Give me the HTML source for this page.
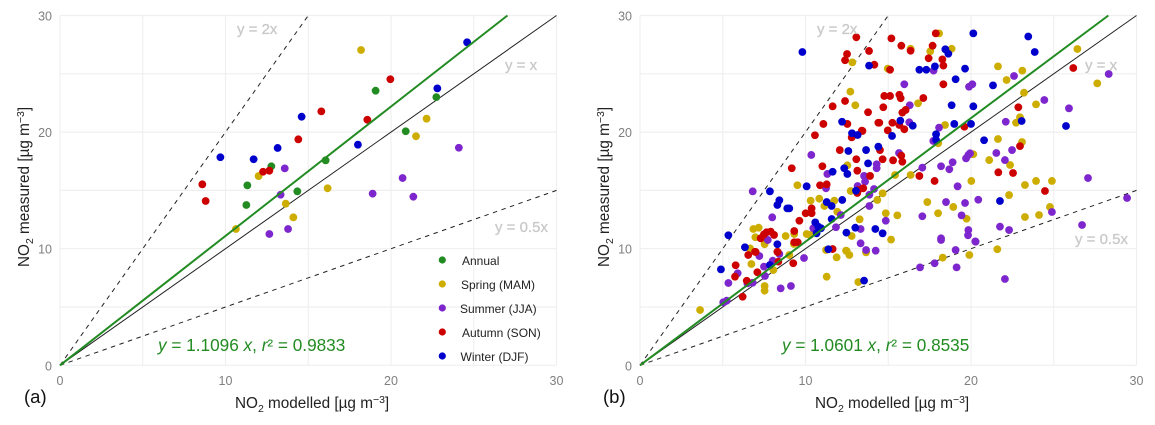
<!DOCTYPE html>
<html lang="en">
<head>
<meta charset="utf-8">
<title>NO2 modelled vs measured</title>
<style>
html,body{margin:0;padding:0;background:#fff;}
svg{display:block;font-family:"Liberation Sans",sans-serif;}
.tick{font-size:12.5px;fill:#7f7f7f;}
.title{font-size:15.3px;fill:#222;}
.ref{font-size:15px;fill:#c9c9c9;font-weight:400;stroke:#c9c9c9;stroke-width:.3px;}
.eq{font-size:17.2px;fill:#228b22;}
.leg{font-size:12px;fill:#222;}
.tag{font-size:18.5px;fill:#111;}
</style>
</head>
<body>
<svg id="chart" width="1155" height="425" viewBox="0 0 1155 425" xmlns="http://www.w3.org/2000/svg">
  <g id="panelA"></g>
  <g id="panelB"></g>

  <text class="title" x="235" y="408">NO<tspan font-size="10.5" dy="4">2</tspan><tspan dy="-4"> modelled [µg m</tspan><tspan font-size="10.5" dy="-5">−3</tspan><tspan dy="5">]</tspan></text>
  <text class="title" x="815" y="408">NO<tspan font-size="10.5" dy="4">2</tspan><tspan dy="-4"> modelled [µg m</tspan><tspan font-size="10.5" dy="-5">−3</tspan><tspan dy="5">]</tspan></text>
  <text class="title" transform="translate(29,267) rotate(-90)">NO<tspan font-size="10.5" dy="4">2</tspan><tspan dy="-4"> measured [µg m</tspan><tspan font-size="10.5" dy="-5">−3</tspan><tspan dy="5">]</tspan></text>
  <text class="title" transform="translate(609,267) rotate(-90)">NO<tspan font-size="10.5" dy="4">2</tspan><tspan dy="-4"> measured [µg m</tspan><tspan font-size="10.5" dy="-5">−3</tspan><tspan dy="5">]</tspan></text>

  <text class="ref" x="237" y="34">y = 2x</text>
  <text class="ref" x="505" y="70">y = x</text>
  <text class="ref" x="495" y="232">y = 0.5x</text>
  <text class="ref" x="817" y="34">y = 2x</text>
  <text class="ref" x="1085" y="70">y = x</text>
  <text class="ref" x="1075" y="244">y = 0.5x</text>

  <text class="eq" x="158" y="351"><tspan font-style="italic">y</tspan> = 1.1096 <tspan font-style="italic">x</tspan>,  <tspan font-style="italic">r</tspan>² = 0.9833</text>
  <text class="eq" x="782" y="351"><tspan font-style="italic">y</tspan> = 1.0601 <tspan font-style="italic">x</tspan>,  <tspan font-style="italic">r</tspan>² = 0.8535</text>

  <text class="tag" x="24" y="403">(a)</text>
  <text class="tag" x="603" y="403">(b)</text>

  <g>
    <circle cx="442.3" cy="260" r="3.6" fill="#228b22"/>
    <text class="leg" x="462" y="265">Annual</text>
    <circle cx="442.3" cy="284" r="3.6" fill="#cdad00"/>
    <text class="leg" x="461" y="289">Spring (MAM)</text>
    <circle cx="442.3" cy="308" r="3.6" fill="#7d26cd"/>
    <text class="leg" x="460" y="313">Summer (JJA)</text>
    <circle cx="442.3" cy="332" r="3.6" fill="#cd0000"/>
    <text class="leg" x="462" y="337">Autumn (SON)</text>
    <circle cx="442.3" cy="356" r="3.6" fill="#0000cd"/>
    <text class="leg" x="460.5" y="361">Winter (DJF)</text>
  </g>
</svg>
<script>
const tickLabels = [0, 10, 20, 30];
const gridValues = [0, 5, 10, 15, 20, 25, 30];
const refSlopes = [2, 0.5];
const fitSlopeA = 1.1096;
const fitSlopeB = 1.0601;

const annualA = [[11.32,15.43],[11.26,13.75],[12.77,17.07],[14.34,14.92],[16.05,17.58],[19.07,23.55],[20.89,20.07],[22.74,23.0]];
const springA = [[10.63,11.69],[12.0,16.23],[13.64,13.86],[14.1,12.69],[16.17,15.18],[18.19,27.04],[21.51,19.64],[22.15,21.15]];
const summerA = [[12.65,11.26],[13.33,14.63],[13.58,16.89],[13.78,11.69],[18.89,14.72],[20.7,16.06],[21.35,14.46],[24.1,18.66]];
const autumnA = [[8.6,15.52],[8.8,14.09],[12.27,16.6],[12.65,16.69],[14.4,19.38],[15.79,21.78],[18.57,21.06],[19.96,24.53]];
const winterA = [[9.69,17.84],[11.7,17.67],[13.15,18.64],[14.6,21.32],[18.0,18.92],[22.8,23.75],[24.6,27.7]];

const springB = [[12.83,25.98],[12.71,23.47],[13.01,22.3],[16.35,27.15],[18.07,28.47],[17.54,26.93],[18.83,27.15],[21.63,25.64],[14.97,25.44],[16.8,22.47],[18.43,20.61],[26.43,27.13],[27.63,24.18],[23.1,25.27],[22.15,24.47],[23.2,23.38],[23.93,22.38],[22.96,21.27],[22.72,20.8],[12.53,17.15],[9.51,15.44],[12.73,14.95],[10.83,14.29],[10.31,14.12],[11.74,14.12],[11.14,13.66],[14.34,14.18],[11.92,13.17],[13.27,12.52],[7.17,11.8],[6.85,11.69],[6.97,10.98],[7.53,10.38],[8.8,11.09],[9.32,11.26],[10.07,11.26],[10.27,11.18],[12.79,11.09],[12.49,9.8],[11.24,9.89],[9.3,10.4],[6.65,10.03],[3.63,4.74],[6.73,8.69],[7.53,6.8],[7.53,6.4],[8.06,8.17],[9.02,9.46],[11.28,7.6],[13.19,7.14],[11.88,9.26],[12.45,9.83],[12.65,9.46],[13.66,9.69],[18.29,9.23],[19.9,9.46],[21.59,9.95],[15.17,10.78],[18.02,19.04],[21.63,19.41],[21.1,17.6],[20.14,18.1],[16.35,16.32],[15.41,16.32],[20.02,15.81],[14.66,14.75],[17.36,14.0],[18.93,13.58],[18.01,13.04],[15.55,12.86],[14.85,13.04],[19.73,12.57],[22.36,17.18],[23.93,15.81],[24.89,15.81],[24.77,13.58],[24.11,12.89],[22.3,14.6],[23.26,12.72],[23.26,15.46],[23.08,19.15]];
const summerB = [[17.74,25.27],[15.97,24.1],[19.88,23.89],[20.08,24.1],[16.3,22.3],[16.27,20.84],[18.07,20.38],[28.32,24.98],[22.6,24.81],[24.43,22.75],[25.92,22.04],[22.1,20.89],[10.35,18.04],[11.32,16.41],[14.3,16.9],[14.3,17.24],[13.54,16.24],[13.6,15.75],[11.24,15.18],[6.81,14.92],[13.15,15.38],[14.14,15.12],[13.86,14.63],[13.86,13.66],[12.13,12.89],[7.99,12.69],[10.47,11.75],[7.72,10.75],[11.84,11.84],[13.33,11.69],[13.33,10.46],[13.66,9.89],[5.03,5.4],[5.24,5.54],[5.34,7.06],[5.9,7.89],[7.21,9.37],[6.49,7.03],[6.81,7.08],[8.5,6.6],[9.12,6.8],[7.49,8.46],[8.02,8.97],[8.42,9.55],[7.55,7.66],[9.91,9.2],[14.24,9.83],[16.92,8.4],[17.8,8.75],[19.07,9.89],[19.13,8.4],[20.28,10.6],[18.19,10.75],[17.72,19.24],[21.53,18.21],[19.7,17.75],[19.84,18.04],[19.94,18.18],[18.89,17.41],[18.69,16.81],[18.19,17.07],[17.06,16.95],[19.19,15.35],[15.65,18.21],[18.49,14.0],[19.64,13.92],[20.44,14.2],[17.06,12.78],[14.85,12.4],[19.43,12.86],[19.84,11.6],[19.82,11.15],[18.19,10.89],[20.26,10.63],[21.75,11.89],[22.48,18.46],[22.05,17.6],[27.07,16.06],[29.43,14.35],[26.71,12.03],[24.89,13.15],[22.05,7.4],[22.3,11.6]];
const autumnB = [[13.07,28.13],[13.84,26.96],[12.51,26.7],[12.39,26.16],[14.16,25.78],[12.39,22.67],[11.64,22.21],[13.78,21.7],[12.53,20.7],[11.08,20.7],[14.4,20.8],[13.4,20.12],[15.19,28.04],[15.79,27.41],[16.35,26.98],[17.87,28.47],[17.68,27.41],[17.44,26.33],[18.27,26.24],[18.33,25.7],[15.11,25.35],[18.33,24.1],[14.76,23.1],[15.11,23.1],[15.67,23.2],[15.75,22.9],[17.12,22.92],[14.7,22.13],[16.05,21.9],[15.85,21.67],[14.46,20.8],[15.25,20.8],[15.67,20.61],[14.97,20.15],[15.97,20.24],[19.6,20.46],[26.18,25.5],[22.86,22.13],[10.57,19.73],[9.17,16.9],[11.02,17.07],[12.07,18.46],[13.07,17.67],[13.13,16.69],[14.5,18.46],[13.44,20.1],[12.79,19.55],[13.9,16.24],[10.88,15.44],[11.28,15.52],[13.49,15.18],[13.19,15.03],[13.13,14.78],[10.37,13.46],[10.01,13.04],[10.37,13.04],[9.63,12.4],[7.9,11.46],[7.65,11.41],[7.49,11.23],[7.29,10.89],[8.1,11.18],[9.32,11.52],[9.32,10.55],[9.53,10.55],[8.3,9.74],[6.95,9.74],[6.54,9.46],[6.2,5.88],[5.74,7.6],[5.78,8.58],[6.99,9.72],[7.09,7.98],[6.45,7.25],[8.32,9.72],[8.36,8.89],[9.26,8.75],[11.64,9.97],[14.66,17.67],[15.29,17.58],[15.79,17.98],[15.85,17.46],[16.88,16.24],[17.8,15.81],[21.65,16.55],[22.96,18.8],[22.54,16.49],[24.47,14.95]];
const winterB = [[9.81,26.87],[13.84,25.7],[12.21,20.89],[20.14,28.47],[18.45,27.1],[18.63,26.72],[17.82,25.64],[16.88,25.35],[17.3,25.35],[19.64,25.44],[19.07,24.53],[21.33,24.01],[18.83,22.3],[20.14,22.21],[15.73,20.98],[16.48,20.55],[18.99,20.7],[20.0,20.7],[23.46,28.2],[23.85,26.87],[25.74,20.52],[23.06,20.95],[12.59,18.38],[13.66,18.46],[13.78,17.32],[12.34,16.9],[11.64,16.6],[12.53,16.41],[12.81,19.9],[13.15,19.75],[14.4,18.75],[10.07,15.35],[7.85,14.92],[13.05,14.97],[8.42,14.15],[8.3,13.75],[8.9,13.46],[9.02,13.46],[11.28,14.0],[11.58,13.66],[12.22,14.18],[11.58,12.55],[10.59,12.26],[10.77,11.89],[8.3,10.38],[10.94,11.75],[10.67,11.32],[12.47,11.38],[13.01,11.8],[14.22,11.69],[11.38,9.95],[5.34,11.15],[6.34,10.12],[4.89,8.23],[7.85,8.6],[13.54,7.26],[15.23,19.67],[17.89,19.81],[17.89,19.32],[20.79,19.3],[21.75,14.09],[14.66,11.32]];

const SVG_NS = 'http://www.w3.org/2000/svg';
const colors = {annual:'#228b22', spring:'#cdad00', summer:'#7d26cd', autumn:'#cd0000', winter:'#0000cd'};

function makeEl(tag, parent) {
  const el = document.createElementNS(SVG_NS, tag);
  parent.appendChild(el);
  return el;
}

function drawPanel(parent, left, series, slope, suffix) {
  const xOf = v => left + v * 16.55;
  const yOf = v => 365.3 - v * 11.66;

  gridValues.forEach(v => {
    const gx = makeEl('line', parent);
    
    
    gx.setAttribute('x1', xOf(v)); gx.setAttribute('x2', xOf(v));
    gx.setAttribute('y1', yOf(0)); gx.setAttribute('y2', yOf(30));
    gx.setAttribute('stroke', '#efefef'); gx.setAttribute('stroke-width', '1.2');
    const gy = makeEl('line', parent);
    
    
    gy.setAttribute('x1', xOf(0)); gy.setAttribute('x2', xOf(30));
    gy.setAttribute('y1', yOf(v)); gy.setAttribute('y2', yOf(v));
    gy.setAttribute('stroke', '#efefef'); gy.setAttribute('stroke-width', '1.2');
  });

  tickLabels.forEach(v => {
    const tx = makeEl('text', parent);
    
    
    tx.setAttribute('class', 'tick');
    tx.setAttribute('text-anchor', 'middle');
    tx.setAttribute('x', xOf(v)); tx.setAttribute('y', 385);
    tx.textContent = v;
    const ty = makeEl('text', parent);
    
    
    ty.setAttribute('class', 'tick');
    ty.setAttribute('text-anchor', 'end');
    ty.setAttribute('x', xOf(0) - 8); ty.setAttribute('y', yOf(v) + 5);
    ty.textContent = v;
  });

  refSlopes.forEach(s => {
    const xEnd = Math.min(30, 30 / s);
    const rl = makeEl('line', parent);
    
    
    rl.setAttribute('x1', xOf(0)); rl.setAttribute('y1', yOf(0));
    rl.setAttribute('x2', xOf(xEnd)); rl.setAttribute('y2', yOf(xEnd * s));
    rl.setAttribute('stroke', '#222'); rl.setAttribute('stroke-width', '1');
    rl.setAttribute('stroke-dasharray', '4.5 4.5');
  });

  const oneToOne = makeEl('line', parent);
  
  
  oneToOne.setAttribute('x1', xOf(0)); oneToOne.setAttribute('y1', yOf(0));
  oneToOne.setAttribute('x2', xOf(30)); oneToOne.setAttribute('y2', yOf(30));
  oneToOne.setAttribute('stroke', '#222'); oneToOne.setAttribute('stroke-width', '1');

  series.forEach(s => {
    s.points.forEach(p => {
      const c = makeEl('circle', parent);
      
      
      c.setAttribute('cx', xOf(p[0]));
      c.setAttribute('cy', yOf(p[1]));
      c.setAttribute('r', 3.9);
      c.setAttribute('fill', colors[s.key]);
    });
  });

  const xFit = Math.min(30, 30 / slope);
  const fit = makeEl('line', parent);
  
  
  fit.setAttribute('x1', xOf(0)); fit.setAttribute('y1', yOf(0));
  fit.setAttribute('x2', xOf(xFit)); fit.setAttribute('y2', yOf(xFit * slope));
  fit.setAttribute('stroke', colors.annual); fit.setAttribute('stroke-width', '2');
}

drawPanel(document.getElementById('panelA'), 60, [
  {key:'annual', points:annualA},
  {key:'spring', points:springA},
  {key:'summer', points:summerA},
  {key:'autumn', points:autumnA},
  {key:'winter', points:winterA}
], fitSlopeA, 'a');

drawPanel(document.getElementById('panelB'), 640, [
  {key:'spring', points:springB},
  {key:'summer', points:summerB},
  {key:'autumn', points:autumnB},
  {key:'winter', points:winterB}
], fitSlopeB, 'b');
</script>
</body>
</html>
